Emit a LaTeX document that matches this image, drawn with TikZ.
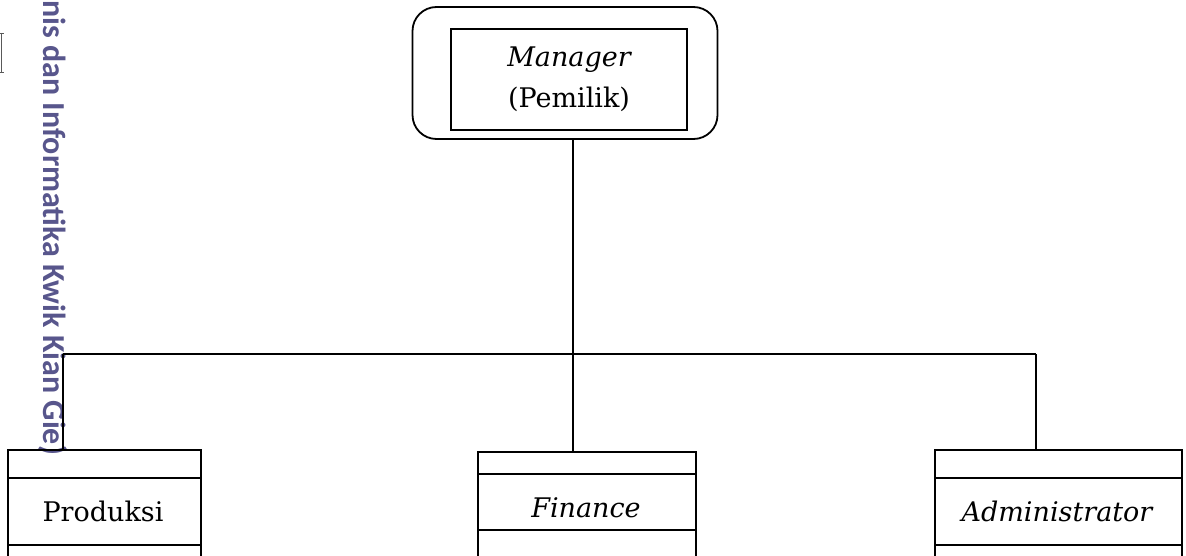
\documentclass[tikz,border=0pt]{standalone}
\usepackage{fontspec}
\setmainfont{DejaVu Serif}
\newfontfamily\wmfont{Carlito}
\definecolor{wmcol}{RGB}{88,86,140}
\tikzset{
  ln/.style={line width=1.8pt, black},
  outerbox/.style={draw, ln, rounded corners=24pt, minimum width=305pt, minimum height=132pt, inner sep=0pt},
  innerbox/.style={draw, ln, minimum width=236pt, minimum height=101pt, inner sep=0pt, align=center, font=\fontsize{27}{41}\selectfont},
  unitbox/.style={draw, ln, inner sep=0pt, anchor=north west},
  lbl/.style={font=\fontsize{27}{30}\selectfont, inner sep=0pt},
}
\begin{document}
\begin{tikzpicture}[x=1pt,y=-1pt]
\useasboundingbox (0,0) rectangle (1186,556);
\clip (0,0) rectangle (1186,556);
% watermark
\node[rotate=-90, anchor=base west, text=wmcol, font=\wmfont\bfseries\fontsize{32}{36}\selectfont, inner sep=0pt] (wm) at (43,0) {nis dan Informatika Kwik Kian Gie)};
% small ticks top left
\draw[line width=0.6pt, gray!70!black] (0,33) -- (4,33) (0,72) -- (4,72) (1,33) -- (1,72);
% manager
\node[outerbox] (mgr) at (565,73) {};
\node[innerbox] (mgrin) at (569,79.5) {\itshape Manager\\(Pemilik)};
% bottom boxes
\node[unitbox, minimum width=193pt, minimum height=130pt] (prod) at (7,449) {};
\node[unitbox, minimum width=218pt, minimum height=130pt] (fin) at (477,451) {};
\node[unitbox, minimum width=247pt, minimum height=130pt] (adm) at (934,449) {};
\draw[ln] (prod.north west) ++(0,29) -- +(193,0);
\draw[ln] (prod.north west) ++(0,96) -- +(193,0);
\draw[ln] (fin.north west) ++(0,23) -- +(218,0);
\draw[ln] (fin.north west) ++(0,79) -- +(218,0);
\draw[ln] (adm.north west) ++(0,29) -- +(247,0);
\draw[ln] (adm.north west) ++(0,96) -- +(247,0);
\node[lbl] (tprod) at (103,511) {Produksi};
\node[lbl] (tfin) at (586,508) {\itshape Finance};
\node[lbl] (tadm) at (1057,511) {\itshape Administrator};
% connectors
\coordinate (busC) at (573,354);
\coordinate (busL) at (63,354);
\coordinate (busR) at (1036,354);
\draw[ln] (mgr.south -| busC) -- (busC);
\draw[ln] (busL) -- (busR);
\draw[ln] (busL) -- (busL |- prod.north);
\draw[ln] (busC) -- (busC |- fin.north);
\draw[ln] (busR) -- (busR |- adm.north);
\end{tikzpicture}
\end{document}
